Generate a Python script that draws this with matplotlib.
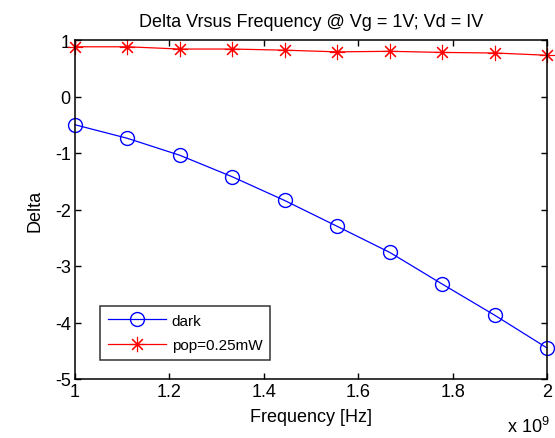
import numpy as np
import matplotlib
matplotlib.use("Agg")
import matplotlib.pyplot as plt
from matplotlib.ticker import FuncFormatter, MultipleLocator

plt.rcParams['font.family'] = ['Liberation Sans', 'DejaVu Sans']
plt.rcParams['mathtext.fontset'] = 'custom'
plt.rcParams['mathtext.rm'] = 'Liberation Sans'

freq_hz = [1.0e9, 1.111e9, 1.222e9, 1.333e9, 1.444e9, 1.556e9, 1.667e9, 1.778e9, 1.889e9, 2.0e9]
delta_dark = [-0.50, -0.74, -1.04, -1.42, -1.84, -2.30, -2.76, -3.32, -3.87, -4.45]
delta_pop = [0.88, 0.88, 0.84, 0.84, 0.82, 0.79, 0.80, 0.78, 0.77, 0.73]
labels = ['dark', 'pop=0.25mW']
title = 'Delta Vrsus Frequency @ Vg = 1V; Vd = IV'

fig = plt.figure(figsize=(5.55, 4.39), dpi=100)
ax = fig.add_axes([75/555, 1-380/439, 472/555, 339/439])

ax.plot(freq_hz, delta_dark, color='#0000ff', lw=0.9, marker='o', ms=10,
        mfc='none', mec='#0000ff', mew=1.0, label=labels[0], clip_on=False)
ax.plot(freq_hz, delta_pop, color='#ff0000', lw=0.9, marker=(8, 2, 0), ms=11,
        mfc='#ff0000', mec='#ff0000', mew=0.8, label=labels[1], clip_on=False)

ax.set_xlim(1e9, 2e9)
ax.set_ylim(-5, 1)
ax.xaxis.set_major_locator(MultipleLocator(0.2e9))
ax.yaxis.set_major_locator(MultipleLocator(1))
ax.xaxis.set_major_formatter(FuncFormatter(lambda v, p: '%g' % round(v/1e9, 3)))
ax.yaxis.set_major_formatter(FuncFormatter(lambda v, p: '%g' % v))
ax.tick_params(direction='in', length=4, width=1, top=True, right=True,
               labelsize=13, pad=3, colors='black')
for s in ax.spines.values():
    s.set_linewidth(1.1)

ax.set_xlabel('Frequency [Hz]', fontsize=13, labelpad=6)
ax.set_ylabel('Delta', fontsize=13, labelpad=8)
ax.set_title(title, fontsize=13, pad=10)
fig.text(528/555, 1-427/439, r'x 10$^{9}$', fontsize=13, ha='center', va='center')

leg = ax.legend(loc='lower left', bbox_to_anchor=(0.053, 0.056), fontsize=11,
                frameon=True, fancybox=False, edgecolor='black', borderpad=0.5,
                handlelength=3.8, handletextpad=0.4, labelspacing=0.7, borderaxespad=0)
leg.get_frame().set_linewidth(1.1)

fig.savefig('out.png', dpi=100)
